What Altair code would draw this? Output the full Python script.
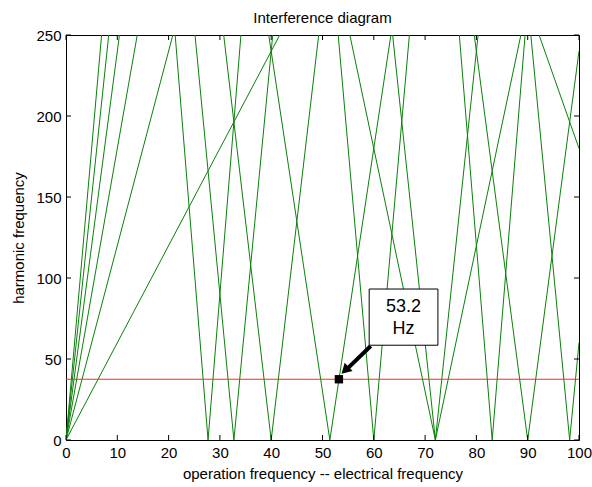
import altair as alt
import pandas as pd

# ---------------- data ----------------
# green harmonic lines: vertices (x, y) of each polyline
line_ids = [
    "h6", "h6",
    "h12", "h12",
    "h18", "h18",
    "h24", "h24",
    "h30", "h30",
    "h36", "h36",
    "a39", "a39", "a39",
    "a33", "a33", "a33",
    "a27", "a27", "a27",
    "a21", "a21", "a21",
    "a15", "a15", "a15",
    "a9", "a9",
    "b36", "b36", "b36",
    "b30", "b30", "b30",
    "b24", "b24", "b24",
    "c39", "c39", "c39",
    "c33", "c33", "c33",
]
vertex_x = [
    0, 41.67,
    0, 20.83,
    0, 13.89,
    0, 10.42,
    0, 8.33,
    0, 6.94,
    21.28, 27.69, 34.10,
    25.15, 32.73, 40.30,
    30.74, 40.00, 49.26,
    39.52, 51.43, 63.33,
    55.33, 72.00, 88.67,
    92.22, 100.0,
    53.06, 60.00, 66.94,
    63.67, 72.00, 80.33,
    79.58, 90.00, 100.0,
    76.67, 83.08, 89.49,
    90.61, 98.18, 100.0,
]
vertex_y = [
    0, 250,
    0, 250,
    0, 250,
    0, 250,
    0, 250,
    0, 250,
    250, 0, 250,
    250, 0, 250,
    250, 0, 250,
    250, 0, 250,
    250, 0, 250,
    250, 180,
    250, 0, 250,
    250, 0, 250,
    250, 0, 240,
    250, 0, 250,
    250, 0, 60,
]

# red reference line (harmonic frequency level)
red_x = [0, 100]
red_y = [37.5, 37.5]

# marked intersection
marker_x = [53.2]
marker_y = [37.5]
marker_label = ["53.2", "Hz"]

# axis ticks
x_ticks = [0, 10, 20, 30, 40, 50, 60, 70, 80, 90, 100]
y_ticks = [0, 50, 100, 150, 200, 250]

# ---------------- build tables ----------------
lines_df = pd.DataFrame({"line": line_ids, "x": vertex_x, "y": vertex_y})
lines_df["idx"] = range(len(lines_df))
red_df = pd.DataFrame({"x": red_x, "y": red_y})
mark_df = pd.DataFrame({"x": marker_x, "y": marker_y})

# annotation box / text / arrow (in data coordinates)
box_df = pd.DataFrame({"x": [59.1], "x2": [72.5], "y": [58.5], "y2": [93.2]})
text_df = pd.DataFrame({"x": [65.8, 65.8], "y": [82.0, 68.8], "t": marker_label})
arrow_df = pd.DataFrame({"x": [59.4], "y": [58.0], "x2": [54.9], "y2": [44.2]})
head_df = pd.DataFrame({"x": [54.4], "y": [43.0]})
xt_df = pd.DataFrame({"x": x_ticks})
yt_df = pd.DataFrame({"y": y_ticks})

W, H = 513, 405
FONT = "Liberation Sans"

common_axis = dict(ticks=False, domain=False, grid=False, labelFlush=False,
                   labelOverlap=False, labelFont=FONT, titleFont=FONT,
                   labelFontSize=15, titleFontSize=15, labelColor="black",
                   titleColor="black", titleFontWeight="normal", labelPadding=5)

xs = alt.Scale(domain=[0, 100], nice=False, zero=False)
ys = alt.Scale(domain=[0, 250], nice=False, zero=False)
xaxis = alt.Axis(title="operation frequency -- electrical frequency", values=x_ticks,
                 titlePadding=6, **common_axis)
yaxis = alt.Axis(title="harmonic frequency", values=y_ticks,
                 titlePadding=9, **common_axis)


def X(f="x"):
    return alt.X(f"{f}:Q", scale=xs, axis=xaxis)


def Y(f="y"):
    return alt.Y(f"{f}:Q", scale=ys, axis=yaxis)


green = alt.Chart(lines_df).mark_line(color="#0a800a", strokeWidth=1, clip=True).encode(
    x=X(), y=Y(), detail="line:N", order="idx:Q")

red = alt.Chart(red_df).mark_line(color="#ff2a1a", strokeWidth=1, clip=True).encode(
    x=X(), y=Y())

xt_bot = alt.Chart(xt_df).mark_rule(color="black", strokeWidth=1).encode(
    x=X(), y=alt.value(H), y2=alt.value(H - 5))
xt_top = alt.Chart(xt_df).mark_rule(color="black", strokeWidth=1).encode(
    x=X(), y=alt.value(0), y2=alt.value(5))
yt_left = alt.Chart(yt_df).mark_rule(color="black", strokeWidth=1).encode(
    y=Y(), x=alt.value(0), x2=alt.value(5))
yt_right = alt.Chart(yt_df).mark_rule(color="black", strokeWidth=1).encode(
    y=Y(), x=alt.value(W), x2=alt.value(W - 5))

arrow = alt.Chart(arrow_df).mark_rule(color="black", strokeWidth=4).encode(
    x=X(), y=Y(), x2="x2:Q", y2="y2:Q")
head = alt.Chart(head_df).mark_point(shape="triangle-up", filled=True, color="black",
                                     size=130, angle=226, opacity=1).encode(x=X(), y=Y())
square = alt.Chart(mark_df).mark_square(color="black", size=70, opacity=1).encode(x=X(), y=Y())
box = alt.Chart(box_df).mark_rect(fill="white", stroke="black", strokeWidth=1).encode(
    x=X(), x2="x2:Q", y=Y(), y2="y2:Q")
text = alt.Chart(text_df).mark_text(font=FONT, fontSize=18, color="black",
                                    baseline="middle", align="center").encode(
    x=X(), y=Y(), text="t:N")

chart = alt.layer(
    green, red, xt_bot, xt_top, yt_left, yt_right, arrow, head, square, box, text
).properties(
    width=W, height=H,
    background="white",
    title=alt.TitleParams("Interference diagram", font=FONT, fontSize=15,
                          fontWeight="normal", color="black", anchor="middle", offset=2),
    autosize=alt.AutoSizeParams(type="none"),
    padding={"left": 66, "top": 35, "right": 13, "bottom": 47},
).configure_view(
    stroke="black", strokeWidth=1
)

chart.save("out.html", embed_options={"renderer": "svg", "actions": False})
